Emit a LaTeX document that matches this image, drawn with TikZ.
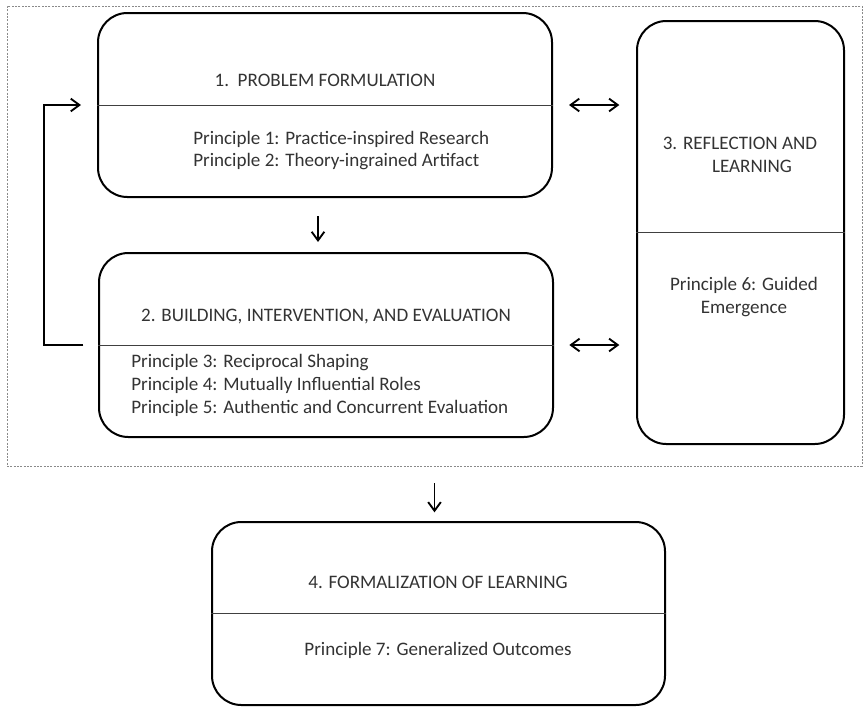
\documentclass[tikz,border=0pt]{standalone}
\usepackage{fontspec}
\setmainfont{Carlito}
\usetikzlibrary{arrows.meta,calc}
\definecolor{txt}{HTML}{333333}
\definecolor{frameg}{HTML}{8A8A8A}
\begin{document}
\begin{tikzpicture}[x=0.75pt,y=-0.75pt,
  phase/.style={draw=black, line width=1.5pt, rounded corners=22pt, rectangle, inner sep=0pt},
  label/.style={text=txt, font=\fontsize{14.3}{17.2}\selectfont, inner sep=0pt},
  divider/.style={draw=black!75, line width=0.75pt},
  tip/.style={Straight Barb[length=6.5pt,width=9.5pt,line width=1.4pt]},
  conn/.style={line width=1.4pt, -{Straight Barb[length=6.5pt,width=9.5pt,line width=1.4pt]}},
  biconn/.style={line width=1.4pt, {Straight Barb[length=6.5pt,width=9.5pt,line width=1.4pt]}-{Straight Barb[length=6.5pt,width=9.5pt,line width=1.4pt]}}
]
\useasboundingbox (0,0) rectangle (866,707);

% dashed frame around stages 1-3
\node[draw=frameg, line width=0.6pt, dash pattern=on 1.6pt off 0.9pt, rectangle,
      minimum width=855*0.75pt, minimum height=460*0.75pt, inner sep=0pt] (frame) at (434.5,236) {};

% stage boxes
\node[phase, minimum width=454*0.75pt, minimum height=184*0.75pt] (b1) at (325,105) {};
\node[phase, minimum width=454*0.75pt, minimum height=184*0.75pt] (b2) at (326,345) {};
\node[phase, minimum width=207*0.75pt, minimum height=423*0.75pt] (b3) at (740.5,232.5) {};
\node[phase, minimum width=453*0.75pt, minimum height=183*0.75pt] (b4) at (438.5,613.5) {};

% dividers between titles and principles
\draw[divider] (b1.west) -- (b1.east);
\draw[divider] (b2.west) -- (b2.east);
\draw[divider] (b3.west) -- (b3.east);
\draw[divider] (b4.west) -- (b4.east);

% titles
\node[label] (t1) at (325,80) {1.\ \ PROBLEM FORMULATION};
\node[label] (t2) at (326,317) {2. BUILDING, INTERVENTION, AND EVALUATION};
\node[label] (t3a) at (740,143) {3. REFLECTION AND};
\node[label] (t3b) at (752,166) {LEARNING};
\node[label] (t4) at (438,582) {4. FORMALIZATION OF LEARNING};

% principles
\node[label, align=left, anchor=west] (p1) at (193,150.5) {Principle 1: Practice-inspired Research\\Principle 2: Theory-ingrained Artifact};
\node[label, align=left, anchor=west] (p2) at (131,385) {Principle 3: Reciprocal Shaping\\Principle 4: Mutually Influential Roles\\Principle 5: Authentic and Concurrent Evaluation};
\node[label, align=center] (p3) at (744,297) {Principle 6: Guided\\Emergence};
\node[label] (p4) at (438,650) {Principle 7: Generalized Outcomes};

% connectors
\coordinate (d1) at ($(b1.south)+(-7,0)$);
\coordinate (d2) at (d1 |- b2.north);
\draw[biconn, shorten <=12pt, shorten >=12.5pt] (b1.east) -- (b1.east -| b3.west);
\draw[biconn, shorten <=11.5pt, shorten >=12.5pt] (b2.east) -- (b2.east -| b3.west);
\draw[conn, shorten <=13.5pt, shorten >=7.5pt] (d1) -- (d2);
\draw[conn, shorten <=12.5pt, shorten >=6.5pt] (frame.south) -- (frame.south |- b4.north);
\draw[conn, shorten <=11pt, shorten >=12pt] (b2.west) -- ++(-54,0) |- (b1.west);
\end{tikzpicture}
\end{document}
